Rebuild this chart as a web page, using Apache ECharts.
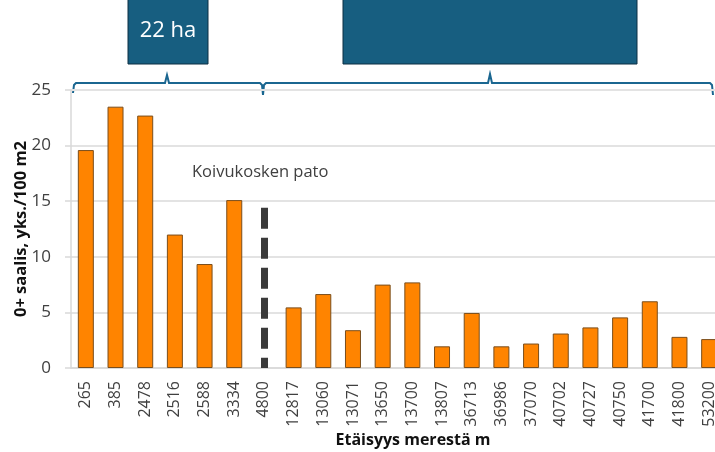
<!DOCTYPE html>
<html>
<head>
<meta charset="utf-8">
<script src="https://cdn.jsdelivr.net/npm/echarts@6/dist/echarts.min.js"></script>
<style>
html,body{margin:0;padding:0;background:#fff;}
#c{width:715px;height:452px;}
</style>
</head>
<body>
<div id="c"></div>
<script>
var categories = ['265','385','2478','2516','2588','3334','4800','12817','13060','13071','13650','13700','13807','36713','36986','37070','40702','40727','40750','41700','41800','53200'];
var values = [19.6, 23.5, 22.7, 12.0, 9.35, 15.1, null, 5.45, 6.65, 3.4, 7.5, 7.7, 1.95, 4.95, 1.95, 2.2, 3.1, 3.65, 4.55, 6.0, 2.8, 2.6];
var damCategory = '4800';
var damHeight = 14.4;
var damLabel = 'Koivukosken pato';
var yTicks = {min: 0, max: 25, interval: 5};
var yName = '0+ saalis, yks./100 m2';
var xName = 'Etäisyys merestä m';
var boxLabel = '22 ha';

var FONT = '"Open Sans", sans-serif';
var chart = echarts.init(document.getElementById('c'), null, {renderer: 'canvas'});
var BLUE = '#175e80';
var LINE = '#1a6690';

chart.setOption({
  animation: false,
  backgroundColor: '#fff',
  grid: {left: 71, top: 90, width: 653, height: 278, containLabel: false, outerBoundsMode: 'none'},
  xAxis: {
    type: 'category',
    data: categories,
    axisLine: {show: true, lineStyle: {color: '#d9d9d9', width: 1.5}},
    axisTick: {show: false},
    axisLabel: {rotate: 90, margin: 13, fontSize: 16, color: '#404040', fontFamily: FONT, interval: 0}
  },
  yAxis: {
    type: 'value',
    min: yTicks.min, max: yTicks.max, interval: yTicks.interval,
    name: yName,
    nameLocation: 'middle',
    nameGap: 41,
    nameMoveOverlap: false,
    nameTextStyle: {fontSize: 16.5, fontWeight: 'bold', color: '#111', fontFamily: FONT},
    axisLine: {show: true, lineStyle: {color: '#d9d9d9', width: 1.5}},
    axisTick: {show: true, length: 6, lineStyle: {color: '#d9d9d9', width: 1.5}},
    axisLabel: {fontSize: 17, color: '#404040', fontFamily: FONT, margin: 20},
    splitLine: {lineStyle: {color: '#e3e3e3', width: 2}}
  },
  series: [{
    type: 'bar',
    data: values,
    barWidth: 16,
    itemStyle: {color: '#ff8400', borderColor: '#7a4e1c', borderWidth: 1},
    markLine: {
      silent: true,
      symbol: 'none',
      label: {show: false},
      lineStyle: {color: '#3a3a3a', width: 7, type: [21, 9], cap: 'butt'},
      data: [[{coord: [damCategory, damHeight]}, {coord: [damCategory, 0]}]]
    }
  }],
  graphic: [
    {type: 'rect', shape: {x: 128, y: -2, width: 80, height: 66}, style: {fill: BLUE, stroke: '#0c2f42', lineWidth: 1}},
    {type: 'text', x: 168, y: 31, style: {text: boxLabel, fill: '#fff', font: '22px ' + FONT, textAlign: 'center', textVerticalAlign: 'middle'}},
    {type: 'rect', shape: {x: 343, y: -2, width: 294, height: 66}, style: {fill: BLUE, stroke: '#0c2f42', lineWidth: 1}},
    {type: 'polyline', shape: {points: [[73, 93], [74, 85], [76, 83], [165, 83], [167, 75], [169, 83], [260, 83], [262, 85], [263, 95]]}, style: {stroke: LINE, lineWidth: 2, fill: null}},
    {type: 'polyline', shape: {points: [[263, 95], [264, 85], [266, 83], [488, 83], [490, 74], [492, 83], [710, 83], [712, 85], [713, 95]]}, style: {stroke: LINE, lineWidth: 2, fill: null}},
    {type: 'text', x: 192, y: 172, style: {text: damLabel, fill: '#404040', font: '16.5px ' + FONT, textAlign: 'left', textVerticalAlign: 'middle'}},
    {type: 'text', x: 413, y: 440, style: {text: xName, fill: '#111', font: 'bold 16px ' + FONT, textAlign: 'center', textVerticalAlign: 'middle'}}
  ]
});
</script>
</body>
</html>
